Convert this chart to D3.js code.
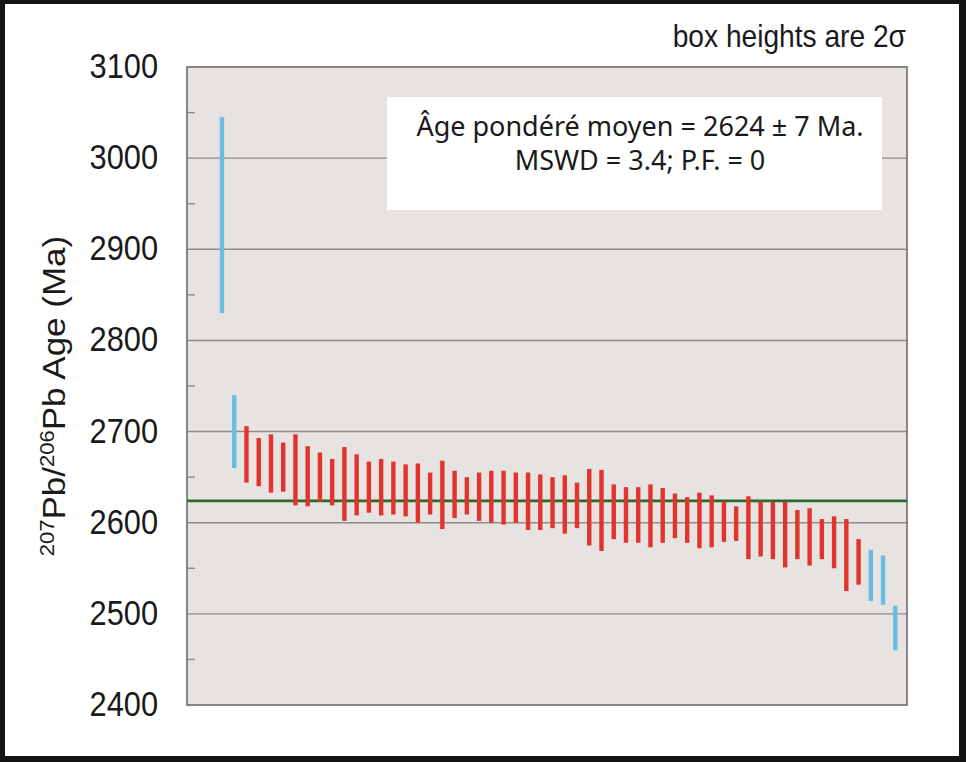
<!DOCTYPE html>
<html>
<head>
<meta charset="utf-8">
<script src="https://cdn.jsdelivr.net/npm/d3@7"></script>
<style>
  body { margin: 0; background: #fff; }
  svg { display: block; }
</style>
</head>
<body>
<div id="chart"></div>
<script>
var W = 966, H = 762,
  plot = { left: 187, top: 67, right: 907, bottom: 705 },
  squish = 0.88; // the picture is a bit narrow, text gets squeezed the same way

// 2 sigma box limits for each analysis, ordered as in the plot (Ma)
var ageHigh = [3045, 2740, 2706, 2693, 2697, 2688, 2697, 2684, 2677, 2670,
  2683, 2675, 2667, 2670, 2667, 2664, 2665, 2655, 2668, 2657,
  2650, 2655, 2657, 2657, 2655, 2655, 2653, 2650, 2652, 2644,
  2659, 2658, 2642, 2639, 2639, 2642, 2638, 2632, 2628, 2633,
  2630, 2623, 2618, 2629, 2623, 2623, 2623, 2614, 2616, 2604,
  2607, 2604, 2582, 2570, 2564, 2509];
var ageLow = [2830, 2660, 2644, 2640, 2633, 2634, 2619, 2618, 2623, 2619,
  2602, 2608, 2611, 2608, 2609, 2607, 2600, 2609, 2593, 2605,
  2609, 2602, 2600, 2598, 2600, 2592, 2592, 2594, 2588, 2594,
  2575, 2569, 2582, 2578, 2578, 2573, 2578, 2583, 2578, 2572,
  2573, 2579, 2580, 2560, 2563, 2560, 2551, 2560, 2553, 2560,
  2550, 2525, 2532, 2514, 2510, 2460];
// analyses left out of the weighted mean
var rejected = [0, 1, 53, 54, 55];
var meanAge = 2624;
var yTicks = [2400, 2500, 2600, 2700, 2800, 2900, 3000, 3100];
var yMinor = [2450, 2550, 2650, 2750, 2850, 2950, 3050];
var infoLines = ["Âge pondéré moyen = 2624 ± 7 Ma.", "MSWD = 3.4; P.F. = 0"];
var note = "box heights are 2σ";

var svg = d3.select("#chart").append("svg")
  .attr("width", W)
  .attr("height", H);

// black frame round the figure
svg.append("rect").attr("width", W).attr("height", H).style("fill", "#141414");
svg.append("rect").attr("x", 5).attr("y", 4).attr("width", 954).attr("height", 752).style("fill", "#fff");

var x = d3.scalePoint()
  .domain(d3.range(ageHigh.length))
  .range([222, 895.3]);

var y = d3.scaleLinear()
  .domain([2400, 3100])
  .range([plot.bottom, plot.top]);

svg.append("rect")
  .attr("x", plot.left).attr("y", plot.top)
  .attr("width", plot.right - plot.left).attr("height", plot.bottom - plot.top)
  .style("fill", "#e7e3e0");

// gridlines
svg.selectAll(".grid")
  .data(yTicks.slice(1, -1))
  .enter().append("line")
  .attr("class", "grid")
  .attr("x1", plot.left).attr("x2", plot.right)
  .attr("y1", function (d) { return y(d); })
  .attr("y2", function (d) { return y(d); })
  .style("stroke", "#8f8c8a")
  .style("stroke-width", 1.4);

svg.selectAll(".minor")
  .data(yMinor)
  .enter().append("line")
  .attr("class", "minor")
  .attr("x1", plot.left).attr("x2", plot.left + 8)
  .attr("y1", function (d) { return y(d); })
  .attr("y2", function (d) { return y(d); })
  .style("stroke", "#8f8c8a")
  .style("stroke-width", 1.4);

// weighted mean
svg.append("line")
  .attr("x1", plot.left).attr("x2", plot.right)
  .attr("y1", y(meanAge)).attr("y2", y(meanAge))
  .style("stroke", "#2a6a2c")
  .style("stroke-width", 2.6);

// error boxes
svg.selectAll(".box")
  .data(ageHigh)
  .enter().append("rect")
  .attr("class", "box")
  .attr("x", function (d, i) { return x(i) - 2.2; })
  .attr("width", 4.4)
  .attr("y", function (d) { return y(d); })
  .attr("height", function (d, i) { return y(ageLow[i]) - y(d); })
  .style("fill", function (d, i) { return rejected.indexOf(i) >= 0 ? "#68bde2" : "#e2342d"; });

// info box
svg.append("rect")
  .attr("x", 387).attr("y", 97).attr("width", 495).attr("height", 113)
  .style("fill", "#fff");

svg.selectAll(".info")
  .data(infoLines)
  .enter().append("text")
  .attr("class", "info")
  .attr("x", 640)
  .attr("y", function (d, i) { return 136 + i * 34; })
  .style("text-anchor", "middle")
  .style("font-family", "'Noto Sans', sans-serif")
  .style("font-size", "27px")
  .style("fill", "#1a1a1a")
  .text(function (d) { return d; });

// plot border
svg.append("rect")
  .attr("x", plot.left).attr("y", plot.top)
  .attr("width", plot.right - plot.left).attr("height", plot.bottom - plot.top)
  .style("fill", "none")
  .style("stroke", "#6e6c6a")
  .style("stroke-width", 1.6);

// y axis labels
var yAxis = svg.append("g")
  .attr("transform", "translate(" + plot.left + ",0)")
  .call(d3.axisLeft(y).tickValues(yTicks).tickSize(0).tickFormat(d3.format("d")));
yAxis.select(".domain").remove();
yAxis.selectAll("text")
  .attr("x", -29 / squish)
  .attr("dy", "0.3em")
  .attr("transform", "scale(" + squish + ",1)")
  .style("font-family", "'Liberation Sans', Arial, sans-serif")
  .style("font-size", "35px")
  .style("fill", "#1a1a1a");

var title = svg.append("text")
  .attr("transform", "translate(65,396) scale(" + squish + ",1) rotate(-90)")
  .style("text-anchor", "middle")
  .style("font-family", "'Liberation Sans', Arial, sans-serif")
  .style("font-size", "35px")
  .style("fill", "#1a1a1a");
title.append("tspan").attr("dy", -13).style("font-size", "22px").text("207");
title.append("tspan").attr("dy", 13).text("Pb/");
title.append("tspan").attr("dy", -13).style("font-size", "22px").text("206");
title.append("tspan").attr("dy", 13).text("Pb Age (Ma)");

svg.append("text")
  .attr("transform", "translate(906,47) scale(" + squish + ",1)")
  .style("text-anchor", "end")
  .style("font-family", "'Liberation Sans', Arial, sans-serif")
  .style("font-size", "32px")
  .style("fill", "#1a1a1a")
  .text(note);
</script>
</body>
</html>
